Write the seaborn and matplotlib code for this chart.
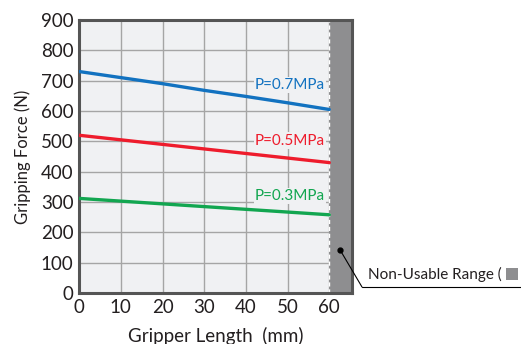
import matplotlib
matplotlib.use("Agg")
from matplotlib import pyplot as plt
from matplotlib.patches import Rectangle
import seaborn as sns
import pandas as pd

gripper_length = [0, 10, 20, 30, 40, 50, 60]
force_07 = [730, 710, 690, 668, 648, 627, 605]
force_05 = [520, 505, 490, 475, 460, 445, 430]
force_03 = [312, 303, 294, 285, 276, 267, 258]
series_labels = ["P=0.7MPa", "P=0.5MPa", "P=0.3MPa"]
series_colors = ["#1272c0", "#ee1c2c", "#12a650"]
label_y = [686, 502, 320]
x_ticks = [0, 10, 20, 30, 40, 50, 60]
y_ticks = [0, 100, 200, 300, 400, 500, 600, 700, 800, 900]

sns.set_style("white")
plt.rcParams['font.family'] = ['Lato', 'DejaVu Sans']

df = pd.DataFrame({"length": gripper_length * 3,
                   "force": force_07 + force_05 + force_03,
                   "series": [s for s in series_labels for _ in gripper_length]})

fig = plt.figure(figsize=(5.21, 3.44), dpi=100)
ax = fig.add_axes([0.152, 0.148, 0.524, 0.794])
ax.set_facecolor("#f0f1f3")

xmax = 65.5
ax.set_xlim(0, xmax)
ax.set_ylim(0, 900)
ax.set_xticks(x_ticks)
ax.set_yticks(y_ticks)
ax.grid(True, color="#a5a5a5", linewidth=1.0)
ax.set_axisbelow(True)

# non-usable range band
ax.add_patch(Rectangle((60, 0), xmax - 60, 900, facecolor="#8e8e90", edgecolor="none", zorder=1.5))
ax.plot([60, 60], [0, 900], color="white", linestyle=(0, (3, 2)), linewidth=1.0, zorder=1.6)

sns.lineplot(data=df, x="length", y="force", hue="series", palette=series_colors,
             linewidth=2.4, legend=False, ax=ax, zorder=3)

for lab, col, yy in zip(series_labels, series_colors, label_y):
    ax.text(59, yy, lab, color=col, fontsize=11, ha="right", va="center", zorder=4,
            bbox=dict(facecolor="#f0f1f3", edgecolor="none", pad=1.0))

for sp in ax.spines.values():
    sp.set_color("#555555")
    sp.set_linewidth(2.2)

ax.tick_params(labelsize=13.5, length=0, pad=4, colors="#231f20")
ax.set_xlabel("Gripper Length  (mm)", fontsize=13.5, color="#231f20", labelpad=8)
ax.set_ylabel("Gripping Force (N)", fontsize=12, color="#231f20", labelpad=7)

# callout
ax.plot([62.6], [142], marker="o", color="black", markersize=3.5, zorder=5, clip_on=False)
ax.annotate("", xy=(62.6, 142), xytext=(362, 57), xycoords="data", textcoords="figure pixels",
            arrowprops=dict(arrowstyle="-", color="black", linewidth=0.8, shrinkA=0, shrinkB=0))
fig.add_artist(plt.Line2D([362 / 521, 1.0], [57 / 344, 57 / 344], color="black", linewidth=0.8))
fig.text(368 / 521, 70 / 344, "Non-Usable Range (", fontsize=11, color="#231f20", va="center", ha="left")
fig.add_artist(Rectangle((506 / 521, 64 / 344), 12 / 521, 12 / 344, facecolor="#8e8e90",
                         edgecolor="none", transform=fig.transFigure))

fig.savefig("out.png", dpi=100)
